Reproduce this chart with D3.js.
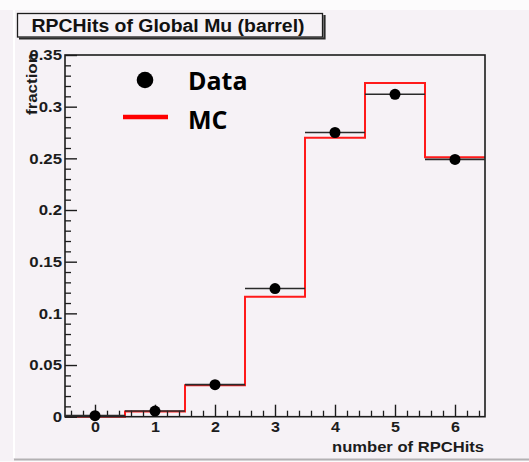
<!DOCTYPE html>
<html>
<head>
<meta charset="utf-8">
<script src="https://cdn.jsdelivr.net/npm/d3@7"></script>
<style>
  html, body { margin: 0; padding: 0; background: #f6f2f6; }
  svg { display: block; }
</style>
</head>
<body>
<svg id="chart" width="529" height="462"></svg>
<script>
// Number of RPC hits per global muon (barrel), data vs. simulation
const hits = [0, 1, 2, 3, 4, 5, 6];
const dataFraction = [0.001, 0.0055, 0.031, 0.124, 0.275, 0.312, 0.249];
const mcFraction = [0.0, 0.005, 0.0305, 0.116, 0.270, 0.323, 0.251];
const yTicks = [0, 0.05, 0.1, 0.15, 0.2, 0.25, 0.3, 0.35];
const xTicks = [0, 1, 2, 3, 4, 5, 6];
const legendLabels = ["Data", "MC"];
const titleText = "RPCHits of Global Mu (barrel)";
const xTitle = "number of RPCHits";
const yTitle = "fraction";

const W = 529, H = 462;
const frame = { left: 65, right: 485, top: 55, bottom: 416.7 };
const ink = "#1c1c1c";
const bg = "#f6f2f6";
const labelFont = "'Liberation Sans', Arial, Helvetica, sans-serif";

const svg = d3.select("#chart");

// canvas decorations
svg.append("rect").attr("x", 0).attr("y", 0).attr("width", W).attr("height", H).attr("fill", bg);
svg.append("rect").attr("x", 0).attr("y", 0).attr("width", W).attr("height", 10).attr("fill", "#fcfbfc");
svg.append("line").attr("x1", 14).attr("x2", 14).attr("y1", 10).attr("y2", 458)
  .attr("stroke", "#ffffff").attr("stroke-width", 2);
svg.append("line").attr("x1", 14).attr("x2", W).attr("y1", 459.5).attr("y2", 459.5)
  .attr("stroke", "#b3b1b3").attr("stroke-width", 2);
svg.append("rect").attr("x", 0).attr("y", 461).attr("width", W).attr("height", 1).attr("fill", "#fcfbfc");

const x = d3.scaleLinear().domain([-0.5, 6.5]).range([frame.left, frame.right]);
const y = d3.scaleLinear().domain([0, 0.35]).range([frame.bottom, frame.top]);

// widen glyphs horizontally a little, like the ROOT rendering
function stretch(sel, k) {
  sel.each(function () {
    const len = this.getComputedTextLength();
    d3.select(this).attr("textLength", len * k).attr("lengthAdjust", "spacingAndGlyphs");
  });
}

// MC histogram outline (red step line)
const edges = hits.map(h => h - 0.5).concat([hits[hits.length - 1] + 0.5]);
const mcPts = edges.map((e, i) => [e, mcFraction[Math.min(i, mcFraction.length - 1)]]);
svg.append("path")
  .datum(mcPts)
  .attr("fill", "none")
  .attr("stroke", "#ff1a1a")
  .attr("stroke-width", 2)
  .attr("d", d3.line().x(d => x(d[0])).y(d => y(d[1])).curve(d3.curveStepAfter));

// minor ticks
const xMinor = d3.range(-0.4, 6.45, 0.2).filter(v => Math.abs(v - Math.round(v)) > 1e-6);
const yMinor = d3.range(0, 0.3501, 0.01).filter(v => Math.abs(v * 20 - Math.round(v * 20)) > 1e-6);

svg.append("g").attr("transform", `translate(0,${frame.bottom})`)
  .call(d3.axisBottom(x).tickValues(xMinor).tickSizeInner(-6).tickSizeOuter(0).tickFormat(""))
  .call(g => g.select(".domain").remove())
  .call(g => g.selectAll("line").attr("stroke", ink).attr("stroke-width", 1.3));

svg.append("g").attr("transform", `translate(${frame.left},0)`)
  .call(d3.axisLeft(y).tickValues(yMinor).tickSizeInner(-6).tickSizeOuter(0).tickFormat(""))
  .call(g => g.select(".domain").remove())
  .call(g => g.selectAll("line").attr("stroke", ink).attr("stroke-width", 1.3));

// major ticks and labels
const xAxis = svg.append("g").attr("transform", `translate(0,${frame.bottom})`)
  .call(d3.axisBottom(x).tickValues(xTicks).tickSizeInner(-12).tickSizeOuter(0).tickPadding(5).tickFormat(d3.format("d")))
  .call(g => g.select(".domain").remove())
  .call(g => g.selectAll("line").attr("stroke", ink).attr("stroke-width", 1.4));
xAxis.selectAll("text")
  .attr("fill", ink).attr("font-family", labelFont).attr("font-weight", "bold").attr("font-size", 14)
  .call(stretch, 1.15);

const yFmt = d => d === 0 ? "0" : String(+d.toFixed(2));
const yAxis = svg.append("g").attr("transform", `translate(${frame.left},0)`)
  .call(d3.axisLeft(y).tickValues(yTicks).tickSizeInner(-12).tickSizeOuter(0).tickPadding(3).tickFormat(yFmt))
  .call(g => g.select(".domain").remove())
  .call(g => g.selectAll("line").attr("stroke", ink).attr("stroke-width", 1.4));
yAxis.selectAll("text")
  .attr("fill", ink).attr("font-family", labelFont).attr("font-weight", "bold").attr("font-size", 15)
  .call(stretch, 1.12);

// plot frame
svg.append("rect")
  .attr("x", frame.left).attr("y", frame.top)
  .attr("width", frame.right - frame.left).attr("height", frame.bottom - frame.top)
  .attr("fill", "none").attr("stroke", ink).attr("stroke-width", 1.6);

// data points with bin-width horizontal bars
const dataG = svg.append("g");
dataG.selectAll("line.bar").data(hits).join("line")
  .attr("class", "bar")
  .attr("x1", d => x(d - 0.5)).attr("x2", d => x(d + 0.5))
  .attr("y1", (d, i) => y(dataFraction[i])).attr("y2", (d, i) => y(dataFraction[i]))
  .attr("stroke", "#2a2a2a").attr("stroke-width", 1.6);
dataG.selectAll("circle").data(hits).join("circle")
  .attr("cx", d => x(d)).attr("cy", (d, i) => y(dataFraction[i]))
  .attr("r", 5.5).attr("fill", "#000");

// axis titles
svg.append("text")
  .attr("x", frame.right - 1).attr("y", 452)
  .attr("text-anchor", "end")
  .attr("fill", ink).attr("font-family", labelFont).attr("font-weight", "bold").attr("font-size", 14)
  .text(xTitle)
  .attr("textLength", 152).attr("lengthAdjust", "spacingAndGlyphs");

svg.append("text")
  .attr("transform", "translate(37,53) rotate(-90)")
  .attr("text-anchor", "end")
  .attr("fill", ink).attr("font-family", labelFont).attr("font-weight", "bold").attr("font-size", 14)
  .text(yTitle)
  .attr("textLength", 62).attr("lengthAdjust", "spacingAndGlyphs");

// title box with drop shadow
svg.append("path")
  .attr("d", "M19,38.5 H324.5 V15")
  .attr("fill", "none").attr("stroke", "#2a2a2a").attr("stroke-width", 2.2);
svg.append("rect")
  .attr("x", 17.5).attr("y", 13.5).attr("width", 305).attr("height", 23.5)
  .attr("fill", bg).attr("stroke", ink).attr("stroke-width", 1.3);
svg.append("text")
  .attr("x", 168).attr("y", 31.5)
  .attr("text-anchor", "middle")
  .attr("fill", "#111").attr("font-family", labelFont).attr("font-weight", "bold").attr("font-size", 18)
  .text(titleText)
  .attr("textLength", 273).attr("lengthAdjust", "spacingAndGlyphs");

// legend
const legend = svg.append("g");
legend.append("circle").attr("cx", 145).attr("cy", 80).attr("r", 8.3).attr("fill", "#000");
legend.append("line").attr("x1", 123).attr("x2", 168).attr("y1", 117).attr("y2", 117)
  .attr("stroke", "#ff0000").attr("stroke-width", 4.5);
legend.selectAll("text").data(legendLabels).join("text")
  .attr("x", 188).attr("y", (d, i) => i === 0 ? 90 : 129)
  .attr("fill", "#000").attr("font-family", "'Open Sans', sans-serif").attr("font-weight", "bold").attr("font-size", 25)
  .text(d => d);
</script>
</body>
</html>
